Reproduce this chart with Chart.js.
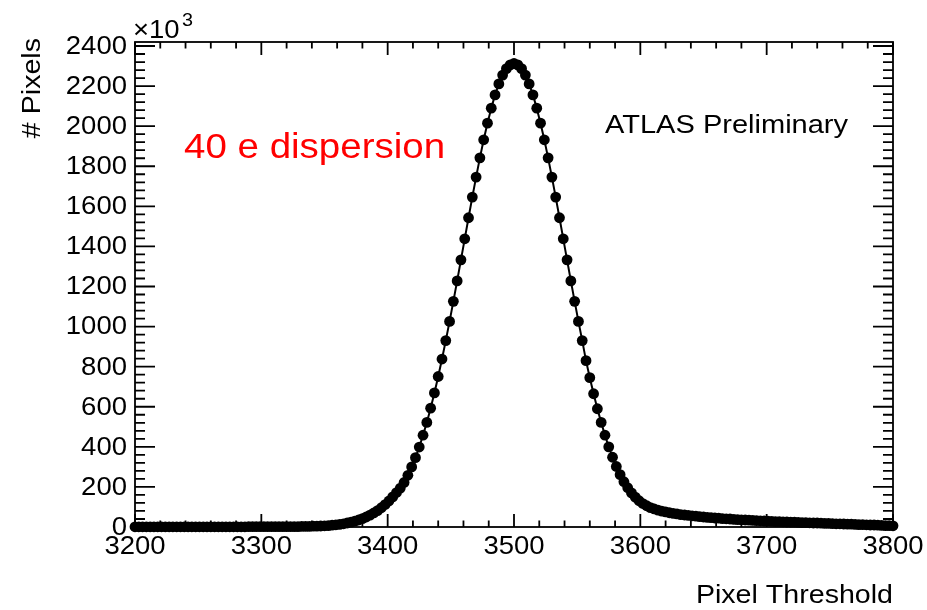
<!DOCTYPE html>
<html lang="en">
<head>
  <meta charset="UTF-8">
  <title>Pixel Threshold</title>
  <script src="https://cdn.jsdelivr.net/npm/chart.js"></script>
  <style>
    body { margin: 0; background: #fff; }
    #wrap { width: 927px; height: 610px; }
  </style>
</head>
<body>
  <div id="wrap"><canvas id="myChart" width="927" height="610"></canvas></div>

<script>
// threshold bin positions (e)
const thresholds = [
  3200,3203,3206,3209,3212,3215,3218,3221,3224,3227,
  3230,3233,3236,3239,3242,3245,3248,3251,3254,3257,
  3260,3263,3266,3269,3272,3275,3278,3281,3284,3287,
  3290,3293,3296,3299,3302,3305,3308,3311,3314,3317,
  3320,3323,3326,3329,3332,3335,3338,3341,3344,3347,
  3350,3353,3356,3359,3362,3365,3368,3371,3374,3377,
  3380,3383,3386,3389,3392,3395,3398,3401,3404,3407,
  3410,3413,3416,3419,3422,3425,3428,3431,3434,3437,
  3440,3443,3446,3449,3452,3455,3458,3461,3464,3467,
  3470,3473,3476,3479,3482,3485,3488,3491,3494,3497,
  3500,3503,3506,3509,3512,3515,3518,3521,3524,3527,
  3530,3533,3536,3539,3542,3545,3548,3551,3554,3557,
  3560,3563,3566,3569,3572,3575,3578,3581,3584,3587,
  3590,3593,3596,3599,3602,3605,3608,3611,3614,3617,
  3620,3623,3626,3629,3632,3635,3638,3641,3644,3647,
  3650,3653,3656,3659,3662,3665,3668,3671,3674,3677,
  3680,3683,3686,3689,3692,3695,3698,3701,3704,3707,
  3710,3713,3716,3719,3722,3725,3728,3731,3734,3737,
  3740,3743,3746,3749,3752,3755,3758,3761,3764,3767,
  3770,3773,3776,3779,3782,3785,3788,3791,3794,3797,
  3800
];

// number of pixels per bin, in units of 10^3
const pixelCounts = [
  1,1,1,1,1,1,1,1,1,1,
  1,1,1,1,1,1,1,1,1,1,
  1,1,1,1,1,1,1,1,1,1,
  2,2,2,2,2,2,2,2,2,2,
  2,2,2,2,3,3,3,4,4,5,
  6,7,9,11,13,16,20,24,29,35,
  42,50,59,70,82,96,112,130,150,172,
  194,222,258,300,346,399,458,522,593,669,
  751,838,930,1026,1126,1228,1333,1438,1543,1646,
  1746,1842,1932,2015,2090,2156,2211,2255,2287,2306,
  2313,2306,2287,2255,2211,2156,2090,2015,1932,1842,
  1746,1646,1543,1438,1333,1228,1126,1026,930,830,
  745,665,590,522,458,400,348,302,261,226,
  196,170,149,131,117,106,97,90,84,79,
  75,71,68,65,62,60,58,56,54,52,
  50,48,47,45,44,42,41,40,38,37,
  36,35,34,33,32,31,30,29,28,27,
  27,26,25,24,24,23,22,22,21,20,
  20,19,18,18,17,16,16,15,14,14,
  13,12,12,11,10,10,9,8,7,7,
  6
];

const xTicks = [3200, 3300, 3400, 3500, 3600, 3700, 3800];
const yTicks = [0, 200, 400, 600, 800, 1000, 1200, 1400, 1600, 1800, 2000, 2200, 2400];

const FONT = '"Liberation Sans", Arial, Helvetica, sans-serif';
const SX = 1.1; // glyphs in the original are a bit wide

function drawText(ctx, text, x, y, size, opts = {}) {
  ctx.save();
  ctx.translate(x, y);
  if (opts.rotate) ctx.rotate(opts.rotate);
  ctx.scale(SX, 1);
  ctx.font = `${size}px ${FONT}`;
  ctx.fillStyle = opts.color || '#000';
  ctx.textAlign = opts.align || 'left';
  ctx.textBaseline = opts.baseline || 'alphabetic';
  ctx.fillText(text, 0, 0);
  ctx.restore();
}

// ROOT style frame: box with ticks on all four sides + labels
const rootFrame = {
  id: 'rootFrame',
  afterDraw(chart) {
    const ctx = chart.ctx;
    const { left, right, top, bottom } = chart.chartArea;
    const xs = chart.scales.x;
    const ys = chart.scales.y;

    ctx.save();
    ctx.strokeStyle = '#000';
    ctx.lineWidth = 1.8;
    ctx.strokeRect(left, top, right - left, bottom - top);

    ctx.beginPath();
    // x ticks (major 100, minor 20)
    for (let v = xs.min; v <= xs.max + 0.01; v += 20) {
      const px = xs.getPixelForValue(v);
      const len = (v % 100 === 0) ? 13 : 6.5;
      ctx.moveTo(px, bottom); ctx.lineTo(px, bottom - len);
      ctx.moveTo(px, top); ctx.lineTo(px, top + len);
    }
    // y ticks (major 200, minor 40)
    for (let v = 0; v <= ys.max; v += 40) {
      const py = ys.getPixelForValue(v);
      const len = (v % 200 === 0) ? 20 : 10;
      ctx.moveTo(left, py); ctx.lineTo(left + len, py);
      ctx.moveTo(right, py); ctx.lineTo(right - len, py);
    }
    ctx.stroke();
    ctx.restore();

    xTicks.forEach(v => {
      drawText(ctx, String(v), xs.getPixelForValue(v), 554, 25, { align: 'center' });
    });
    yTicks.forEach(v => {
      drawText(ctx, String(v), left - 8, ys.getPixelForValue(v) + 1, 25, { align: 'right', baseline: 'middle' });
    });

    // exponent
    drawText(ctx, '\u00d710', 133, 38, 25);
    drawText(ctx, '3', 182, 26, 18);

    // axis titles
    drawText(ctx, 'Pixel Threshold', right, 603, 26, { align: 'right' });
    drawText(ctx, '# Pixels', 40, 38, 26, { align: 'right', rotate: -Math.PI / 2 });

    // annotations
    drawText(ctx, 'ATLAS Preliminary', 605, 133, 26.4);
    drawText(ctx, '40 e dispersion', 184, 158, 35, { color: '#ff0000' });
  }
};

const ctx = document.getElementById('myChart').getContext('2d');
new Chart(ctx, {
  type: 'line',
  data: {
    datasets: [{
      label: 'Pixels',
      data: thresholds.map((t, i) => ({ x: t, y: pixelCounts[i] })),
      borderColor: '#000',
      borderWidth: 2,
      backgroundColor: '#000',
      pointRadius: 5.4,
      pointBorderWidth: 0,
      pointBackgroundColor: '#000',
      tension: 0,
      clip: 8
    }]
  },
  options: {
    responsive: false,
    animation: false,
    layout: {
      padding: { left: 135, right: 34, top: 42, bottom: 83 }
    },
    plugins: {
      legend: { display: false },
      tooltip: { enabled: false }
    },
    scales: {
      x: {
        type: 'linear',
        min: 3200,
        max: 3800,
        display: false
      },
      y: {
        min: 0,
        max: 2420,
        display: false
      }
    }
  },
  plugins: [rootFrame]
});
</script>
</body>
</html>
